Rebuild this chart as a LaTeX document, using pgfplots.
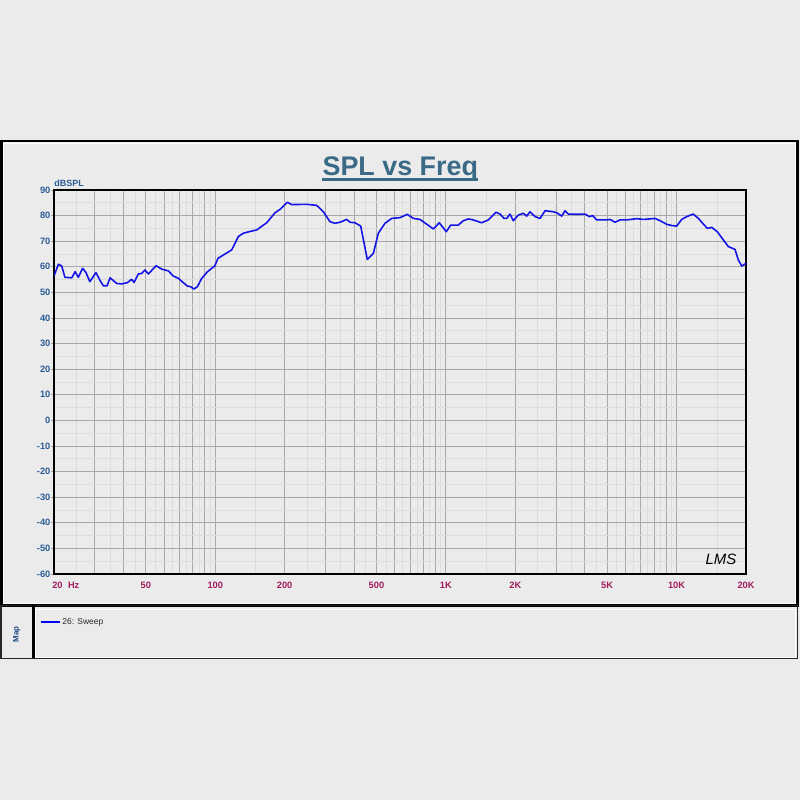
\documentclass[border=0pt]{standalone}
\usepackage{fontspec}
\setmainfont{Liberation Sans}
\usepackage{pgfplots}
\pgfplotsset{compat=1.18}
\definecolor{bg}{HTML}{EBEBEB}
\definecolor{ylab}{HTML}{2B5C96}
\definecolor{xlab}{HTML}{A11C5C}
\definecolor{ttl}{HTML}{3B6A87}
\definecolor{gmaj}{HTML}{A8A8A8}
\definecolor{gmin}{HTML}{DCDCDC}
\definecolor{sweepblue}{HTML}{1414E6}
\definecolor{mapc}{HTML}{1F4684}
\begin{document}
\begin{tikzpicture}
\begin{scope}[x=1bp,y=1bp]
\fill[bg] (0,0) rectangle (800,800);
% main panel
\draw[white,line width=0.8bp] (3.6,656.4) rectangle (795.2,196.6);
\draw[black,line width=2.5bp] (1.25,658.75) rectangle (797.5,194.5);
% legend panel
\draw[white,line width=0.8bp] (35.5,190.6) rectangle (795.4,143);
\draw[black!85,line width=1.5bp] (1.25,194.5) rectangle (797.5,141.5);
\draw[black,line width=2.5bp] (33.5,194.5) -- (33.5,141.5);
% legend entry
\draw[blue,line width=1.7bp] (40.7,178.3) -- (60,178.3);
\node[anchor=base west,inner sep=0,text=black!85] at (62.3,175) {\fontsize{8.5}{8.5}\selectfont 26: Sweep};
\node[rotate=90,inner sep=0,text=mapc] at (16.7,165.5) {\fontsize{8}{8}\selectfont\bfseries Map};
% title
\node[anchor=base,inner sep=0,text=ttl] (T) at (400.3,624.3) {\fontsize{27}{27}\selectfont\bfseries SPL vs Freq};
\draw[ttl,line width=2.8bp] (T.west |- 0,620.8) -- (T.east |- 0,620.8);
% y unit
\node[anchor=base west,inner sep=0,text=ylab] at (54.3,613.5) {\fontsize{9}{9}\selectfont\bfseries dBSPL};
\end{scope}
\begin{axis}[
  at={(54bp,226bp)}, anchor=south west,
  width=692bp, height=384bp, scale only axis,
  xmode=log, log basis x=10,
  xmin=20, xmax=20000, ymin=-60, ymax=90,
  xtick={20,30,40,50,60,70,80,90,100,200,300,400,500,600,700,800,900,1000,2000,3000,4000,5000,6000,7000,8000,9000,10000,20000},
  xticklabels={{\makebox[0pt][l]{\hspace*{-1.7bp}20\hspace{5.4bp}Hz}},{},{},50,{},{},{},{},100,200,{},{},500,{},{},{},{},1K,2K,{},{},5K,{},{},{},{},10K,20K},
  minor xtick={25,35,45,55,65,75,85,95,150,250,350,450,550,650,750,850,950,1500,2500,3500,4500,5500,6500,7500,8500,9500,15000},
  ytick={-60,-50,-40,-30,-20,-10,0,10,20,30,40,50,60,70,80,90},
  yticklabels={-60,-50,-40,-30,-20,-10,0,10,20,30,40,50,60,70,80,90},
  minor ytick={-55,-45,-35,-25,-15,-5,5,15,25,35,45,55,65,75,85},
  grid=both,
  major grid style={gmaj,line width=0.9bp},
  minor grid style={gmin,line width=0.9bp},
  axis line style={black,line width=1.5bp},
  xtick pos=bottom, ytick pos=left,
  tick align=outside,
  x tick style={draw=none},
  y tick style={gmaj,line width=0.9bp},
  major tick length=3bp, minor tick length=0pt,
  xticklabel style={font=\fontsize{9.3}{9.3}\selectfont\bfseries, text=xlab, yshift=-2bp},
  yticklabel style={font=\fontsize{9.3}{9.3}\selectfont\bfseries, text=ylab, inner xsep=0.5bp},
  clip=true,
]
\addplot[color=sweepblue, line width=1.6bp, line join=round] table {
x y
20 56.4
20.9 61.0
21.6 60.3
22.3 55.9
23.9 55.7
24.7 58.1
25.5 55.9
26.6 59.4
27.5 57.8
28.6 54.2
30.4 57.7
31.7 54.6
32.7 52.6
34.0 52.6
35.0 55.7
37.4 53.5
39.3 53.3
41.6 53.8
43.4 55.1
44.5 53.9
46.4 57.2
48.0 57.4
49.6 58.75
51.3 57.2
55.4 60.4
58.6 59.1
62.6 58.4
65.8 56.4
69.2 55.5
72.7 53.8
75.7 52.5
78.3 52.2
80.9 51.3
83.6 52.2
87.4 55.5
92.6 58.1
99.5 60.3
102.8 63.3
108.4 64.6
117.9 66.6
125.9 71.8
132.3 73.1
140.1 73.7
151.3 74.4
167.1 77.2
181.6 81.1
190.9 82.4
205.3 85.2
214.5 84.3
249.2 84.4
275.3 84.0
294.1 81.5
314.5 77.6
330.6 77.0
347.6 77.4
371.5 78.5
383.9 77.4
403.6 77.2
427.2 75.9
456.2 62.9
484.6 65.2
509.4 73.1
544.5 77.0
582.2 78.9
632.5 79.2
680.3 80.5
722.2 78.9
772.2 78.5
881.9 74.8
936.4 77.2
1003.8 73.7
1049 76.3
1131.6 76.3
1189.6 78.0
1250.6 78.7
1314.6 78.3
1429.6 77.2
1526.8 78.3
1649.2 81.3
1716 80.6
1786 78.9
1835 78.9
1896 80.6
1960 78.0
2060 80.2
2166 80.9
2240 79.8
2316 81.5
2434 79.6
2559 78.9
2690 81.9
2922 81.5
3024 81.1
3178 79.8
3284 81.9
3394 80.6
3690 80.5
4010 80.6
4186 79.6
4330 80.0
4506 78.3
4978 78.3
5146 78.5
5410 77.4
5686 78.3
6080 78.3
6718 78.8
7174 78.5
7670 78.7
8064 78.9
8476 78.0
9064 76.6
9528 76.1
10012 75.9
10524 78.5
11064 79.6
11818 80.6
12424 78.9
13062 76.7
13594 75.0
14204 75.4
15018 73.7
15944 70.5
16760 67.9
17922 66.8
18516 62.7
19160 60.3
19804 61.1
20000 61.5
};
\end{axis}
\begin{scope}[x=1bp,y=1bp]
% LMS logo
\node[inner sep=0] at (721,241) {\fontsize{15}{15}\selectfont\itshape LMS};
\end{scope}
\end{tikzpicture}
\end{document}
